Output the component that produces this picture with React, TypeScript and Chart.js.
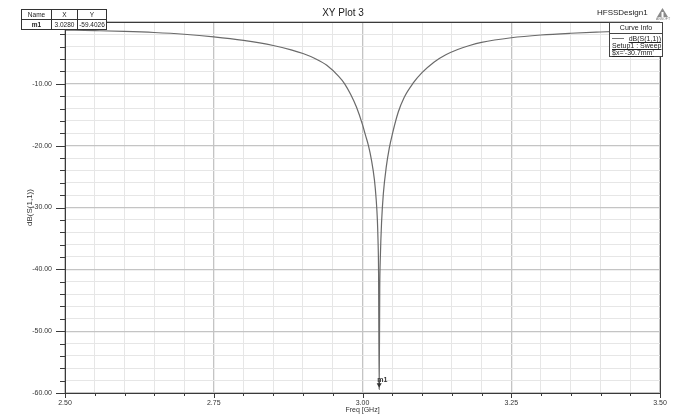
import React, { useEffect, useRef } from "react";
import { Chart, registerables } from "chart.js";

Chart.register(...registerables);

// ---- data ----
const freqGHz = [
  2.5, 2.55, 2.6, 2.65, 2.7, 2.75, 2.8, 2.85, 2.88, 2.9, 2.92, 2.94, 2.96, 2.97, 2.98, 2.99, 3.0,
  3.005, 3.01, 3.015, 3.02, 3.023, 3.025, 3.026, 3.027, 3.028, 3.029, 3.03, 3.032, 3.035, 3.04,
  3.045, 3.05, 3.06, 3.07, 3.085, 3.1, 3.12, 3.14, 3.16, 3.18, 3.2, 3.25, 3.3, 3.35, 3.4, 3.45, 3.5,
];
const dBS11 = [
  -1.3, -1.4, -1.52, -1.7, -1.98, -2.4, -2.98, -3.8, -4.5, -5.1, -5.9, -7.0, -8.8, -10.0, -11.7,
  -13.8, -16.6, -18.3, -20.0, -22.3, -25.5, -28.7, -32.0, -35.0, -40.5, -59.4026, -43.0, -38.0,
  -32.5, -27.8, -23.4, -20.4, -18.2, -14.6, -12.2, -9.9, -8.2, -6.5, -5.3, -4.45, -3.8, -3.3,
  -2.55, -2.1, -1.82, -1.62, -1.45, -1.3,
];
const markerName = "m1";
const markerX = 3.028;
const markerY = -59.4026;
const xMin = 2.5;
const xMax = 3.5;
const yMin = -60;
const yMax = 0;
const titleText = "XY Plot 3";
const designText = "HFSSDesign1";
const yAxisTitle = "dB(S(1,1))";
const xAxisTitle = "Freq [GHz]";
const legendLines = ["dB(S(1,1))", "Setup1 : Sweep", "$x='-30.7mm'"];

const FONT = "'Liberation Sans', Arial, sans-serif";

const decorPlugin = {
  id: "hfssDecor",
  afterDraw(chart: any) {
    const ctx = chart.ctx;
    const ca = chart.chartArea;
    const xs = chart.scales.x;
    const ys = chart.scales.y;
    ctx.save();

    // frame
    ctx.strokeStyle = "#3a3a3a";
    ctx.lineWidth = 1;
    ctx.strokeRect(Math.round(ca.left) + 0.5, Math.round(ca.top) + 0.5, Math.round(ca.right - ca.left), Math.round(ca.bottom - ca.top));

    // y ticks
    ctx.beginPath();
    for (let v = yMin; v <= yMax + 1e-9; v += 2) {
      const y = Math.round(ys.getPixelForValue(v)) + 0.5;
      const major = Math.abs(v % 10) < 1e-9;
      const len = major ? 9 : 5;
      ctx.moveTo(ca.left - len, y);
      ctx.lineTo(ca.left, y);
    }
    // x ticks
    for (let i = 0; i <= 20; i++) {
      const v = xMin + i * 0.05;
      const x = Math.round(xs.getPixelForValue(v)) + 0.5;
      const major = i % 5 === 0;
      const len = major ? 5 : 3;
      ctx.moveTo(x, ca.bottom);
      ctx.lineTo(x, ca.bottom + len);
    }
    ctx.stroke();

    // title
    ctx.fillStyle = "#222";
    ctx.font = `10px ${FONT}`;
    ctx.textAlign = "center";
    ctx.textBaseline = "middle";
    ctx.fillText(titleText, 343, 13);

    ctx.font = `8px ${FONT}`;
    ctx.textAlign = "left";
    ctx.fillText(designText, 597, 13);

    // logo
    ctx.fillStyle = "#8a8a8a";
    ctx.beginPath();
    ctx.moveTo(662.5, 8);
    ctx.lineTo(657, 17);
    ctx.lineTo(668, 17);
    ctx.closePath();
    ctx.fill();
    ctx.fillStyle = "#fff";
    ctx.fillRect(661.5, 12, 2, 5);
    ctx.fillStyle = "#777";
    ctx.font = `3.5px ${FONT}`;
    ctx.textAlign = "center";
    ctx.fillText("ANSOFT", 663, 19.5);

    // axis titles
    ctx.fillStyle = "#333";
    ctx.font = `8px ${FONT}`;
    ctx.save();
    ctx.translate(30, (ca.top + ca.bottom) / 2);
    ctx.rotate(-Math.PI / 2);
    ctx.textAlign = "center";
    ctx.textBaseline = "middle";
    ctx.fillText(yAxisTitle, 0, 0);
    ctx.restore();

    ctx.font = `7px ${FONT}`;
    ctx.textAlign = "center";
    ctx.textBaseline = "middle";
    ctx.fillText(xAxisTitle, (ca.left + ca.right) / 2, 410);

    // marker
    const mx = xs.getPixelForValue(markerX);
    const my = ys.getPixelForValue(markerY);
    ctx.fillStyle = "#333";
    ctx.beginPath();
    ctx.moveTo(mx - 2.5, my - 6);
    ctx.lineTo(mx + 2.5, my - 6);
    ctx.lineTo(mx, my - 1.5);
    ctx.closePath();
    ctx.fill();
    ctx.strokeStyle = "#333";
    ctx.beginPath();
    ctx.moveTo(mx, my - 9);
    ctx.lineTo(mx, my - 5);
    ctx.stroke();
    ctx.font = `bold 7px ${FONT}`;
    ctx.textAlign = "left";
    ctx.fillText(markerName, mx - 2, my - 9);

    // marker table
    const tx = [21.5, 51.5, 77.5, 106.5];
    const ty = [9.5, 19.5, 29.5];
    ctx.fillStyle = "#fff";
    ctx.fillRect(tx[0], ty[0], tx[3] - tx[0], ty[2] - ty[0]);
    ctx.strokeStyle = "#333";
    ctx.lineWidth = 1;
    ctx.strokeRect(tx[0], ty[0], tx[3] - tx[0], ty[2] - ty[0]);
    ctx.beginPath();
    ctx.moveTo(tx[0], ty[1]);
    ctx.lineTo(tx[3], ty[1]);
    ctx.moveTo(tx[1], ty[0]);
    ctx.lineTo(tx[1], ty[2]);
    ctx.moveTo(tx[2], ty[0]);
    ctx.lineTo(tx[2], ty[2]);
    ctx.stroke();
    ctx.fillStyle = "#222";
    ctx.textAlign = "center";
    ctx.textBaseline = "middle";
    ctx.font = `6.5px ${FONT}`;
    ctx.fillText("Name", (tx[0] + tx[1]) / 2, 15);
    ctx.fillText("X", (tx[1] + tx[2]) / 2, 15);
    ctx.fillText("Y", (tx[2] + tx[3]) / 2, 15);
    ctx.font = `bold 6.5px ${FONT}`;
    ctx.fillText(markerName, (tx[0] + tx[1]) / 2, 25);
    ctx.font = `6.5px ${FONT}`;
    ctx.fillText(markerX.toFixed(4), (tx[1] + tx[2]) / 2, 25);
    ctx.fillText(markerY.toFixed(4), (tx[2] + tx[3]) / 2, 25);

    // legend box
    const lx0 = 609.5, lx1 = 662.5, ly0 = 22.5, ly1 = 56.5, lsep = 33.5;
    ctx.fillStyle = "#fff";
    ctx.fillRect(lx0, ly0, lx1 - lx0, ly1 - ly0);
    ctx.strokeStyle = "#444";
    ctx.strokeRect(lx0, ly0, lx1 - lx0, ly1 - ly0);
    ctx.beginPath();
    ctx.moveTo(lx0, lsep);
    ctx.lineTo(lx1, lsep);
    ctx.stroke();
    ctx.fillStyle = "#222";
    ctx.font = `7px ${FONT}`;
    ctx.textAlign = "center";
    ctx.fillText("Curve Info", (lx0 + lx1) / 2, 28);
    // sample line
    ctx.strokeStyle = "#777";
    ctx.beginPath();
    ctx.moveTo(612, 38.5);
    ctx.lineTo(624, 38.5);
    ctx.stroke();
    ctx.textBaseline = "alphabetic";
    const rows = [
      { t: legendLines[0], align: "right", x: 661, y: 41 },
      { t: legendLines[1], align: "left", x: 612, y: 48 },
      { t: legendLines[2], align: "left", x: 612, y: 55 },
    ];
    ctx.strokeStyle = "#222";
    for (const r of rows) {
      ctx.textAlign = r.align as CanvasTextAlign;
      ctx.fillText(r.t, r.x, r.y);
      const w = ctx.measureText(r.t).width;
      const x0 = r.align === "right" ? r.x - w : r.x;
      ctx.beginPath();
      ctx.moveTo(x0, r.y + 1.5);
      ctx.lineTo(x0 + w, r.y + 1.5);
      ctx.stroke();
    }

    ctx.restore();
  },
};

export default function App() {
  const ref = useRef<HTMLCanvasElement | null>(null);
  useEffect(() => {
    if (!ref.current) return;
    const points = freqGHz.map((f, i) => ({ x: f, y: dBS11[i] }));
    const chart = new Chart(ref.current, {
      type: "scatter",
      data: {
        datasets: [
          {
            label: "dB(S(1,1))",
            data: points,
            showLine: true,
            borderColor: "#6a6a6a",
            borderWidth: 1.2,
            pointRadius: 0,
            cubicInterpolationMode: "monotone",
          },
        ],
      },
      plugins: [decorPlugin],
      options: {
        animation: false,
        responsive: false,
        devicePixelRatio: 1,
        layout: { padding: { left: 0, right: 15, top: 22, bottom: 0 } },
        plugins: { legend: { display: false }, tooltip: { enabled: false }, title: { display: false } },
        scales: {
          x: {
            type: "linear",
            min: xMin,
            max: xMax,
            afterFit: (s: any) => {
              s.height = 22;
            },
            afterBuildTicks: (s: any) => {
              const t = [];
              for (let i = 0; i <= 20; i++) t.push({ value: xMin + i * 0.05 });
              s.ticks = t;
            },
            border: { display: false },
            grid: {
              drawTicks: false,
              color: (c: any) => (c.index % 5 === 0 ? "#c4c4c4" : "#e6e6e6"),
              lineWidth: (c: any) => (c.index % 5 === 0 ? 1.3 : 1),
            },
            ticks: {
              padding: 6,
              maxRotation: 0,
              autoSkip: false,
              color: "#333",
              font: { family: FONT, size: 7 },
              callback: (v: any, i: number) => (i % 5 === 0 ? Number(v).toFixed(2) : ""),
            },
          },
          y: {
            type: "linear",
            min: yMin,
            max: yMax,
            afterFit: (s: any) => {
              s.width = 65;
            },
            afterBuildTicks: (s: any) => {
              const t = [];
              for (let v = yMin; v <= yMax; v += 2) t.push({ value: v });
              s.ticks = t;
            },
            border: { display: false },
            grid: {
              drawTicks: false,
              color: (c: any) => (c.tick && Math.abs(c.tick.value % 10) < 1e-9 ? "#c4c4c4" : "#e6e6e6"),
              lineWidth: (c: any) => (c.tick && Math.abs(c.tick.value % 10) < 1e-9 ? 1.3 : 1),
            },
            ticks: {
              padding: 13,
              autoSkip: false,
              color: "#333",
              font: { family: FONT, size: 7 },
              callback: (v: any) => (Math.abs(Number(v) % 10) < 1e-9 ? Number(v).toFixed(2) : ""),
            },
          },
        },
      },
    } as any);
    return () => chart.destroy();
  }, []);
  return (
    <div style={{ position: "fixed", left: 0, top: 0, width: 675, height: 415, background: "#fff" }}>
      <canvas ref={ref} width={675} height={415} style={{ display: "block", width: 675, height: 415 }} />
    </div>
  );
}
